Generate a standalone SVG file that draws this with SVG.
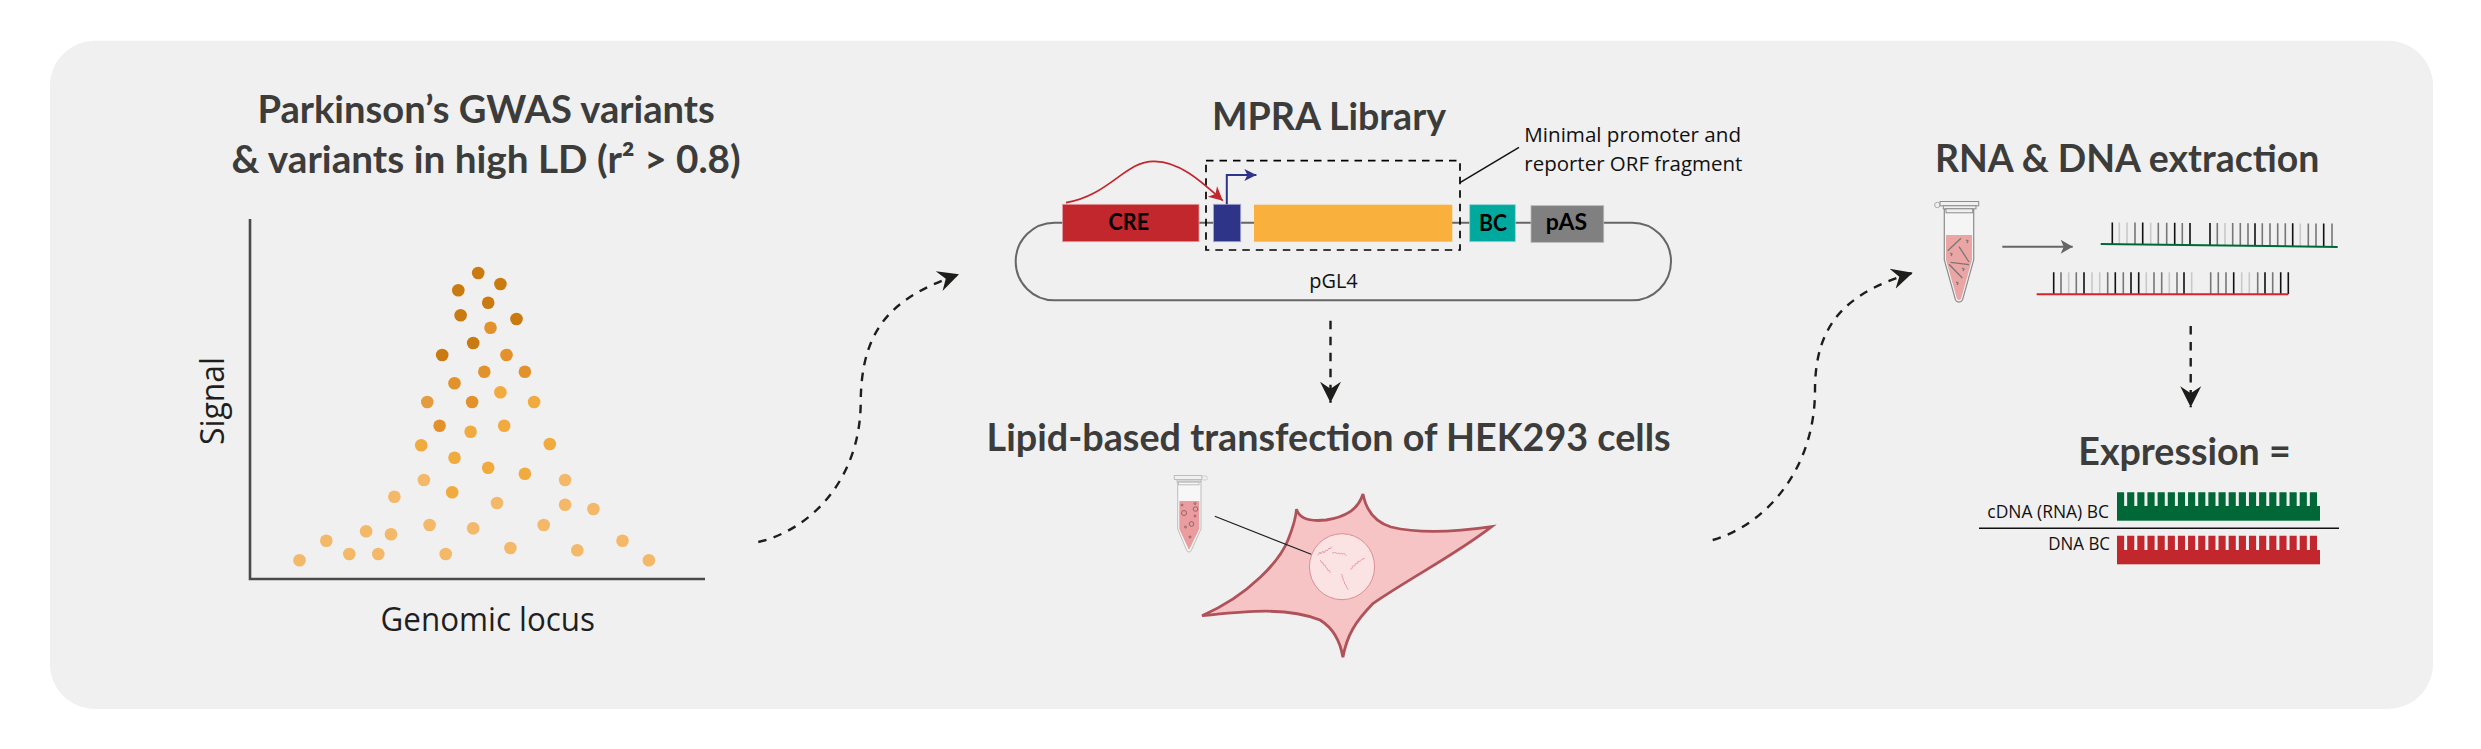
<svg xmlns="http://www.w3.org/2000/svg" width="2481" height="749" viewBox="0 0 2481 749">
<style>
text{font-family:"Open Sans","Liberation Sans",sans-serif}
.title{font-family:Lato,"Liberation Sans",sans-serif;font-weight:700;font-size:37.6px;fill:#3c3c3b}
.lab{font-family:"Open Sans","Liberation Sans",sans-serif;fill:#1f1f1f;font-size:32px}
.sm{font-size:20px;fill:#111}
.xs{font-size:18.5px;fill:#111}
.box{font-family:Lato,"Liberation Sans",sans-serif;font-weight:700;font-size:22.5px;fill:#000}
.d1{fill:#c97a10}.d2{fill:#e3922b}.d3{fill:#f1aa3e}.d4{fill:#f3b868}
.dash{fill:none;stroke:#1d1d1b;stroke-width:2.4;stroke-dasharray:8.5 7.5;marker-end:url(#head)}
.tk{fill:none;stroke-width:1.6}
.tkd{stroke:#111}.tkm{stroke:#777}.tkl{stroke:#c9c9c9}
.frag{fill:none;stroke:#e89fa4;stroke-width:1}
.bub{fill:none;stroke:#7d5a5a;stroke-width:.8}
.seg{stroke:#777;stroke-width:1.3;fill:none}
</style>
<defs>
<marker id="head" markerUnits="userSpaceOnUse" markerWidth="24" markerHeight="24" viewBox="-21 -12 24 24" refX="0" refY="0" orient="auto"><path d="M0 0L-21-10.5-14 0-21 10.5Z" fill="#1d1d1b"/></marker>
<marker id="headRed" markerUnits="userSpaceOnUse" markerWidth="18" markerHeight="18" viewBox="-15 -9 18 18" refX="0" refY="0" orient="auto"><path d="M0 0L-14-7-10 0-14 7Z" fill="#c1272d"/></marker>
<marker id="headBlue" markerUnits="userSpaceOnUse" markerWidth="16" markerHeight="16" viewBox="-12 -8 14 16" refX="0" refY="0" orient="auto"><path d="M0 0L-12-6-9 0-12 6Z" fill="#2e3488"/></marker>
<marker id="headGrey" markerUnits="userSpaceOnUse" markerWidth="16" markerHeight="18" viewBox="-12 -9 14 18" refX="0" refY="0" orient="auto"><path d="M0 0L-12-7-9 0-12 7Z" fill="#666"/></marker>
</defs>
<rect id="background" x="50" y="40.7" width="2383" height="668.3" rx="45" fill="#f0f0f0"/>

<g id="gwas-panel">
<text class="title" x="257.4" y="123" textLength="457.3" lengthAdjust="spacingAndGlyphs">Parkinson’s GWAS variants</text>
<text class="title" x="231.4" y="173.3" textLength="509.3" lengthAdjust="spacingAndGlyphs">&amp; variants in high LD (r² &gt; 0.8)</text>
<path d="M250 219V579H705" fill="none" stroke="#4a4a4a" stroke-width="2.6"/>
<text class="lab" transform="translate(223.7 445) rotate(-90)" textLength="88" lengthAdjust="spacingAndGlyphs">Signal</text>
<text class="lab" x="380.6" y="630.7" textLength="214.4" lengthAdjust="spacingAndGlyphs">Genomic locus</text>
<g id="dots">
<circle class="d1" cx="478.2" cy="273" r="6.3"/><circle class="d1" cx="500.4" cy="284" r="6.3"/><circle class="d1" cx="458.3" cy="290.3" r="6.3"/><circle class="d1" cx="488.2" cy="302.7" r="6.3"/><circle class="d1" cx="460.6" cy="315.3" r="6.3"/><circle class="d1" cx="516.5" cy="319" r="6.3"/><circle class="d1" cx="473.2" cy="343" r="6.3"/><circle class="d1" cx="442.2" cy="355" r="6.3"/>
<circle class="d2" cx="490.5" cy="327.7" r="6.3"/><circle class="d2" cx="506.5" cy="355" r="6.3"/><circle class="d2" cx="484.3" cy="371.7" r="6.3"/><circle class="d2" cx="524.9" cy="371.7" r="6.3"/><circle class="d2" cx="454.5" cy="383.3" r="6.3"/><circle class="d2" cx="472.1" cy="402" r="6.3"/><circle class="d2" cx="439.6" cy="425.7" r="6.3"/><circle class="d2" cx="427.3" cy="402" r="6.3" opacity=".9"/>
<circle class="d3" cx="500.4" cy="392.3" r="6.3"/><circle class="d3" cx="534.1" cy="402" r="6.3"/><circle class="d3" cx="504.2" cy="425.7" r="6.3"/><circle class="d3" cx="470.6" cy="431.7" r="6.3"/><circle class="d3" cx="421.2" cy="445.3" r="6.3"/><circle class="d3" cx="549.8" cy="444" r="6.3"/><circle class="d3" cx="454.5" cy="457.7" r="6.3"/><circle class="d3" cx="488.2" cy="467.7" r="6.3"/><circle class="d3" cx="524.9" cy="473.7" r="6.3"/><circle class="d3" cx="452.2" cy="492.3" r="6.3"/>
<circle class="d4" cx="423.9" cy="480" r="6.3"/><circle class="d4" cx="565.1" cy="480" r="6.3"/><circle class="d4" cx="394.4" cy="496.7" r="6.3"/><circle class="d4" cx="497" cy="503" r="6.3"/><circle class="d4" cx="565.1" cy="504.7" r="6.3"/><circle class="d4" cx="593.4" cy="509" r="6.3"/><circle class="d4" cx="429.6" cy="525" r="6.3"/><circle class="d4" cx="543.7" cy="525" r="6.3"/><circle class="d4" cx="473.2" cy="528.3" r="6.3"/><circle class="d4" cx="366.1" cy="531.3" r="6.3"/><circle class="d4" cx="391" cy="534.3" r="6.3"/><circle class="d4" cx="326.3" cy="540.7" r="6.3"/><circle class="d4" cx="622.5" cy="540.7" r="6.3"/><circle class="d4" cx="510.4" cy="548" r="6.3"/><circle class="d4" cx="577.3" cy="550.3" r="6.3"/><circle class="d4" cx="349.3" cy="554" r="6.3"/><circle class="d4" cx="378.3" cy="554" r="6.3"/><circle class="d4" cx="445.7" cy="554" r="6.3"/><circle class="d4" cx="299.5" cy="560.3" r="6.3"/><circle class="d4" cx="648.9" cy="560.3" r="6.3"/>
</g>
</g>

<g id="mpra-library">
<text class="title" x="1212" y="130" textLength="234" lengthAdjust="spacingAndGlyphs">MPRA Library</text>
<rect id="plasmid" x="1015.7" y="222.7" width="655.3" height="77.6" rx="38.8" fill="none" stroke="#666" stroke-width="2"/>
<g id="cre"><rect x="1062.5" y="204.3" width="136.5" height="37.4" fill="#c1272d" stroke="#e0a0a3" stroke-width=".8"/><text class="box" x="1108.6" y="230" textLength="40.4" lengthAdjust="spacingAndGlyphs">CRE</text></g>
<rect id="promoter" x="1213.6" y="204.3" width="27.1" height="37.4" fill="#2e3488" stroke="#a5a8d0" stroke-width=".8"/>
<rect id="orf" x="1254" y="204.7" width="198.3" height="37" fill="#f9b03c"/>
<g id="bc"><rect x="1469.7" y="204.7" width="45.6" height="37" fill="#00a99d" stroke="#8fd6d0" stroke-width=".8"/><text class="box" x="1479" y="231" textLength="28" lengthAdjust="spacingAndGlyphs">BC</text></g>
<g id="pas"><rect x="1531" y="205.7" width="72.7" height="36.6" fill="#808080" stroke="#b5b5b5" stroke-width=".8"/><text class="box" x="1545.7" y="230.3" textLength="41.3" lengthAdjust="spacingAndGlyphs">pAS</text></g>
<rect id="fragment-box" x="1206" y="160.7" width="254" height="89.3" fill="none" stroke="#000" stroke-width="1.7" stroke-dasharray="7.5 6"/>
<text class="sm" x="1309.3" y="288.3" textLength="48.4" lengthAdjust="spacingAndGlyphs">pGL4</text>
<text class="sm" x="1524.3" y="141.7" textLength="216.7" lengthAdjust="spacingAndGlyphs">Minimal promoter and</text>
<text class="sm" x="1524.3" y="170.7" textLength="218" lengthAdjust="spacingAndGlyphs">reporter ORF fragment</text>
</g>

<g id="transfection">
<text class="title" x="986.6" y="450.7" textLength="684.1" lengthAdjust="spacingAndGlyphs">Lipid-based transfection of HEK293 cells</text>
<g id="tube-1">
<path d="M1177.7 481V529L1187 551a2.5 2.5 0 0 0 4 0L1201 529V481Z" fill="#f7f7f7" stroke="#bdbdbd" stroke-width="1"/>
<path d="M1179.3 501H1199.3V529L1189 550 1179.3 529Z" fill="#ea9c9e"/>
<rect x="1174.3" y="475.5" width="27.5" height="4" fill="none" stroke="#bdbdbd"/><rect x="1177" y="479.5" width="24" height="2.5" fill="none" stroke="#bdbdbd"/><rect x="1178.5" y="482" width="20.5" height="2.8" fill="none" stroke="#bdbdbd"/><rect x="1201.8" y="476" width="5.5" height="4" rx="1.5" fill="none" stroke="#cfcfcf"/>
<circle class="bub" cx="1184" cy="513" r="2.5"/><circle class="bub" cx="1195.5" cy="509" r="2.3"/><circle class="bub" cx="1191.5" cy="524" r="2.3"/><circle class="bub" cx="1182" cy="505" r="1"/><circle class="bub" cx="1195" cy="516" r="1"/><circle class="bub" cx="1185.5" cy="527" r="1"/><circle class="bub" cx="1190" cy="537" r="1"/><circle class="bub" cx="1195" cy="503.5" r="1"/>
</g>
<g id="cell">
<path d="M1296.5 509C1300 522 1317 521 1326 520 1345 517 1358 510 1363 494 1366 510 1375 522 1391 527 1420 534 1455 532 1491.7 526.7 1455 555 1415 575 1373.2 603.3 1355 622 1347 635 1342.9 657.3 1340 640 1333 628 1320 620 1285 606 1240 612 1202 615.7 1250 595 1280 560 1288 540 1294 525 1296 517 1296.5 509Z" fill="#f7c4c6" stroke="#b0525a" stroke-width="2.8" stroke-linejoin="miter"/>
<ellipse cx="1342" cy="566.7" rx="32.6" ry="33" fill="#fbe3e4" stroke="#d98f95" stroke-width="1"/>
<path class="frag" d="M1318 555l2-3 1 2 2-3 1 2 2-3 1 1 2-3 1 1 2-2.300"/>
<path class="frag" d="M1332 552.700l2 .5 1-1 2 1.500 1-1 2 1.500 1-1 2 1 1-1 2 2.500"/>
<path class="frag" d="M1320.400 560l1 2.500 1.500 0 .5 2.500 1.500 0 1 2.500 1.500 1 .5 2 1.500 0 1 2.300"/>
<path class="frag" d="M1350.300 569.300l2-1 0-2 2.500-.5 .5-2 2.500-.5 0-2 2.500 0 1.500-2 3-.8"/>
<path class="frag" d="M1341 574l1.500 1.500-.5 2 1.500 1-.5 2 1.500 1.500 0 2 1.500 1 .5 2 1.800 2.700"/>
</g>
<path id="delivery-line" d="M1214.800 516.300L1311.200 554.300" fill="none" stroke="#1d1d1b" stroke-width="1.200"/>
</g>

<g id="extraction">
<text class="title" x="1935" y="171.700" textLength="384.300" lengthAdjust="spacingAndGlyphs">RNA &amp; DNA extraction</text>
<g id="tube-2">
<path d="M1944.300 209V260L1955.500 300a4 4 0 0 0 7 0L1973.700 260V209Z" fill="#f5f5f5" stroke="#8c8c8c" stroke-width="1.200"/>
<path d="M1946 235H1972V260L1961 299a2.500 2.500 0 0 1-4 0L1946 260Z" fill="#eca5a5"/>
<rect x="1940" y="201.500" width="38.700" height="4.300" fill="#f0f0f0" stroke="#8c8c8c"/><rect x="1943.300" y="205.800" width="32.700" height="3" fill="#f0f0f0" stroke="#8c8c8c"/><rect x="1946" y="208.800" width="26.700" height="4" fill="#f0f0f0" stroke="#8c8c8c"/><circle cx="1937.300" cy="205" r="2.700" fill="none" stroke="#aaa"/>
<path class="seg" d="M1947.700 250.700L1961 238.300M1959 246.700L1969 262M1950.700 262.300L1969 264.700M1949 264.300L1962.300 278"/>
<path class="seg" d="M1966 240l2 1-1 2M1950 253l2 1-1 2M1962 268l2 1-1 2M1956 282l2 1-1 2" stroke-width=".8"/>
</g>
<path d="M2002.300 246.700H2072.700" fill="none" stroke="#666" stroke-width="2" marker-end="url(#headGrey)"/>
<g id="rna-strand">
<path class="tk tkd" d="M2112.300 222.500V244.200M2142.700 222.600V244.600M2174.700 222.800V245M2190 222.900V245.100M2210 223V245.400M2255 223.200V246M2292.700 223.300V246.500M2323.700 223.400V246.900"/>
<path class="tk tkm" d="M2135 222.600V244.500M2158.300 222.700V244.800M2166.700 222.800V244.900M2182.300 222.900V245.100M2217.300 223V245.500M2232.700 223.100V245.700M2240.300 223.100V245.800M2248 223.200V245.900M2262.300 223.200V246.100M2270 223.200V246.200M2277.700 223.300V246.300M2285.300 223.300V246.400M2308.300 223.400V246.700M2316 223.400V246.800M2332 223.500V247"/>
<path class="tk tkl" d="M2119.300 222.500V244.200M2127 222.600V244.300M2150.700 222.700V244.600M2225 223.100V245.600M2300.300 223.400V246.600"/>
<path d="M2100.700 244L2337.700 247" fill="none" stroke="#006837" stroke-width="2"/>
</g>
<g id="dna-strand">
<path class="tk tkd" d="M2053.700 272.300V294M2084 272.300V294M2115.300 272.300V294M2131 272.300V294M2138.700 272.300V294M2184 272.300V294M2233.700 272.300V294M2265 272.300V294M2280.700 272.300V294M2288.300 272.300V294"/>
<path class="tk tkm" d="M2061 272.300V294M2076.300 272.300V294M2107.700 272.300V294M2123.300 272.300V294M2154 272.300V294M2161.700 272.300V294M2177 272.300V294M2210.700 272.300V294M2218.300 272.300V294M2226 272.300V294M2257.700 272.300V294M2272.700 272.300V294"/>
<path class="tk tkl" d="M2068.700 272.300V294M2092 272.300V294M2099.700 272.300V294M2146.300 272.300V294M2169.300 272.300V294M2191.700 272.300V294M2241.700 272.300V294M2249.300 272.300V294"/>
<path d="M2036.700 294.300H2288.300" fill="none" stroke="#d8232a" stroke-width="2"/>
</g>
</g>

<g id="expression">
<text class="title" x="2078.300" y="465" textLength="212.400" lengthAdjust="spacingAndGlyphs">Expression =</text>
<g id="cdna-bc">
<rect x="2117" y="506" width="203" height="14.700" fill="#006837"/>
<path d="M2117 499.200H2320" fill="none" stroke="#006837" stroke-width="13.800" stroke-dasharray="7.150 3"/>
<text class="xs" x="1987.300" y="518.300" textLength="121.700" lengthAdjust="spacingAndGlyphs">cDNA (RNA) BC</text>
</g>
<path d="M1979 528.300H2339" fill="none" stroke="#111" stroke-width="1.500"/>
<g id="dna-bc">
<rect x="2117" y="550" width="203" height="14.300" fill="#c1272d"/>
<path d="M2117 542.900H2320" fill="none" stroke="#c1272d" stroke-width="14.300" stroke-dasharray="7.150 3"/>
<text class="xs" x="2048.300" y="550" textLength="61.700" lengthAdjust="spacingAndGlyphs">DNA BC</text>
</g>
</g>

<g id="connectors">
<path class="dash" d="M758.300 542C810 530 860 480 860.700 403.300 861 330 890 298 959 274.300"/>
<path class="dash" d="M1330.500 320.700V402.700"/>
<path class="dash" d="M1712.700 540C1765 525 1815 470 1815 390 1815 325 1845 293 1912.700 272.700"/>
<path class="dash" d="M2190.700 326V407.300"/>
<path d="M1066 202.700C1110 195 1125 161 1154 161.300 1180 161 1203 183 1222.900 200.700" fill="none" stroke="#c1272d" stroke-width="1.700" marker-end="url(#headRed)"/>
<path d="M1226.800 204.300V175H1256.400" fill="none" stroke="#2e3488" stroke-width="2" marker-end="url(#headBlue)"/>
<path d="M1519 147.300L1460 182.700" fill="none" stroke="#111" stroke-width="1.500"/>
</g>
</svg>
